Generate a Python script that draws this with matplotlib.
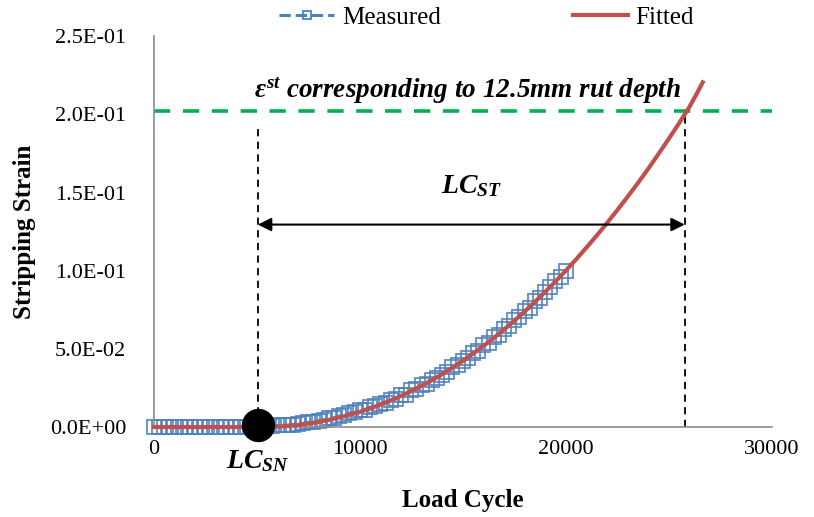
import matplotlib
matplotlib.use('Agg')  # no display here
import matplotlib.pyplot as plt
from matplotlib.lines import Line2D
import numpy as np

plt.rcParams['font.family'] = 'Liberation Serif'
plt.rcParams['mathtext.fontset'] = 'custom'
plt.rcParams['mathtext.it'] = 'Liberation Serif:bold:italic'
plt.rcParams['mathtext.rm'] = 'Liberation Serif:bold'

# measured stripping strain, every 250 load cycles
meas_cycles = list(range(0, 20001, 250))
meas_strain = [
    0.0000, 0.0002, 0.0001, 0.0003, 0.0002, 0.0001, 0.0002, 0.0003, 0.0001, 0.0002,
    0.0001, 0.0003, 0.0002, 0.0001, 0.0002, 0.0002, 0.0001, 0.0003, 0.0002, 0.0001,
    0.0002, 0.0004, 0.0006, 0.0008, 0.0010, 0.0012, 0.0011, 0.0016, 0.0019, 0.0024,
    0.0030, 0.0032, 0.0041, 0.0046, 0.0055, 0.0060, 0.0071, 0.0075, 0.0089, 0.0094,
    0.0108, 0.0112, 0.0126, 0.0135, 0.0149, 0.0153, 0.0174, 0.0180, 0.0203, 0.0208,
    0.0236, 0.0241, 0.0268, 0.0275, 0.0303, 0.0314, 0.0336, 0.0352, 0.0384, 0.0395,
    0.0420, 0.0441, 0.0474, 0.0488, 0.0522, 0.0540, 0.0574, 0.0590, 0.0628, 0.0645,
    0.0684, 0.0704, 0.0742, 0.0762, 0.0805, 0.0826, 0.0866, 0.0893, 0.0935, 0.0960,
    0.0998,
]

# fitted curve
fit_cycles = [0, 5000, 5500, 6000, 6500, 7000, 7500, 8000, 8500, 9000, 9500, 10000,
              10500, 11000, 11500, 12000, 12500, 13000, 13500, 14000, 14500, 15000,
              15500, 16000, 16500, 17000, 17500, 18000, 18500, 19000, 19500, 20000,
              20500, 21000, 21500, 22000, 22500, 23000, 23500, 24000, 24500, 25000,
              25500, 26000, 26500, 26650]
fit_strain = [0.0, 0.0, 0.00007, 0.00032, 0.00076, 0.0014, 0.0022, 0.0033, 0.0046, 0.0061,
              0.0078, 0.0097, 0.0119, 0.0143, 0.0170, 0.0199, 0.0230, 0.0264, 0.0300,
              0.0339, 0.0380, 0.0423, 0.0470, 0.0518, 0.0569, 0.0623, 0.0679, 0.0738,
              0.0800, 0.0864, 0.0931, 0.1000, 0.1072, 0.1147, 0.1224, 0.1304, 0.1387,
              0.1472, 0.1560, 0.1651, 0.1746, 0.1843, 0.1943, 0.2046, 0.2166, 0.2205]

strain_limit = 0.202     # strain at 12.5mm rut depth
lc_sn = 5050             # stripping number
lc_st_end = 25780        # cycle where the fit reaches strain_limit
lc_sn_top = 0.194

blue = '#4F81BD'
red = '#C0504D'
green = '#00B050'

fig = plt.figure(figsize=(8.14, 5.17), dpi=100)
ax = fig.add_axes([0.189, 0.174, 0.759, 0.756])

ax.plot(meas_cycles, meas_strain, color=blue, ls='--', lw=2.2, marker='s',
        ms=9.5, mfc='none', mec=blue, mew=1.3, alpha=0.9, zorder=2, clip_on=False)
ax.plot(fit_cycles, fit_strain, color=red, lw=3, zorder=3, clip_on=False)

ax.axhline(strain_limit, color=green, lw=2.6, dashes=(4.5, 3.5), zorder=1)
ax.plot([lc_sn, lc_sn], [0, lc_sn_top], color='black', lw=1.3, dashes=(4, 3), zorder=1)
ax.plot([lc_st_end, lc_st_end], [0, strain_limit], color='black', lw=1.3,
        dashes=(4, 3), zorder=1)
ax.plot([lc_sn], [0.001], 'o', color='black', ms=23, zorder=5, clip_on=False)

arrow_y = 0.1295
ax.annotate('', xy=(lc_st_end, arrow_y), xytext=(lc_sn, arrow_y),
            arrowprops=dict(arrowstyle='<|-|>', color='black', lw=1.5,
                            mutation_scale=20, shrinkA=0, shrinkB=0))
ax.text((lc_sn + lc_st_end) / 2, arrow_y + 0.016, r'$LC_{ST}$', fontsize=20,
        ha='center', va='bottom')
ax.text(15250, 0.2103, r'$\varepsilon^{st}$ corresponding to 12.5mm rut depth',
        fontsize=19.5, fontweight='bold', fontstyle='italic', ha='center',
        va='baseline')
ax.text(lc_sn, -0.0135, r'$LC_{SN}$', fontsize=20, ha='center', va='top')

ax.set_xlim(0, 30000)
ax.set_ylim(0, 0.25)
ax.set_xticks([0, 10000, 20000, 30000])
ax.set_yticks(np.arange(0, 0.2501, 0.05))
ax.set_yticklabels(['{:.1E}'.format(v) for v in np.arange(0, 0.2501, 0.05)])
ax.tick_params(length=0, labelsize=16)
ax.tick_params(axis='y', pad=20)
ax.tick_params(axis='x', pad=9)
for side in ['top', 'right']:
    ax.spines[side].set_visible(False)
for side in ['left', 'bottom']:
    ax.spines[side].set_color('#8C8C8C')
    ax.spines[side].set_linewidth(1.2)

ax.set_xlabel('Load Cycle', fontsize=18, fontweight='bold', labelpad=22)
ax.set_ylabel('Stripping Strain', fontsize=18, fontweight='bold', labelpad=10)

handles = [Line2D([], [], color=blue, ls='--', lw=2.2, marker='s', ms=6,
                  mfc='none', mec=blue, mew=1.3),
           Line2D([], [], color=red, lw=3)]
fig.legend(handles, ['Measured', 'Fitted'], loc='center', ncol=2,
           bbox_to_anchor=(0.598, 0.966), frameon=False, fontsize=18,
           handlelength=2.2, columnspacing=5.3, handletextpad=0.3)

fig.savefig('out.png', dpi=100)
